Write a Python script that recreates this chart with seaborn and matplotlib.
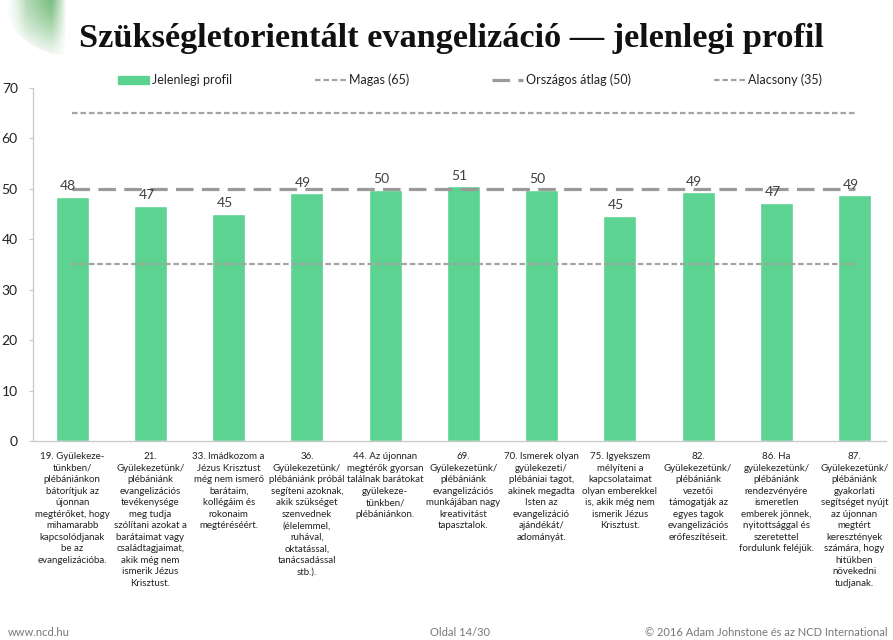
import numpy as np
import matplotlib
matplotlib.use("Agg")
import matplotlib.pyplot as plt
import matplotlib.lines as mlines
import matplotlib.patches as mpatches
import pandas as pd
import seaborn as sns

# values
items = [
    "19. Gyülekeze-\ntünkben/\nplébániánkon\nbátorítjuk az\nújonnan\nmegtérőket, hogy\nmihamarabb\nkapcsolódjanak\nbe az\nevangelizációba.",
    "21.\nGyülekezetünk/\nplébániánk\nevangelizációs\ntevékenysége\nmeg tudja\nszólítani azokat a\nbarátaimat vagy\ncsaládtagjaimat,\nakik még nem\nismerik Jézus\nKrisztust.",
    "33. Imádkozom a\nJézus Krisztust\nmég nem ismerő\nbarátaim,\nkollégáim és\nrokonaim\nmegtéréséért.",
    "36.\nGyülekezetünk/\nplébániánk próbál\nsegíteni azoknak,\nakik szükséget\nszenvednek\n(élelemmel,\nruhával,\noktatással,\ntanácsadással\nstb.).",
    "44. Az újonnan\nmegtérők gyorsan\ntalálnak barátokat\ngyülekeze-\ntünkben/\nplébániánkon.",
    "69.\nGyülekezetünk/\nplébániánk\nevangelizációs\nmunkájában nagy\nkreativitást\ntapasztalok.",
    "70. Ismerek olyan\ngyülekezeti/\nplébániai tagot,\nakinek megadta\nIsten az\nevangelizáció\najándékát/\nadományát.",
    "75. Igyekszem\nmélyíteni a\nkapcsolataimat\nolyan emberekkel\nis, akik még nem\nismerik Jézus\nKrisztust.",
    "82.\nGyülekezetünk/\nplébániánk\nvezetői\ntámogatják az\negyes tagok\nevangelizációs\nerőfeszítéseit.",
    "86. Ha\ngyülekezetünk/\nplébániánk\nrendezvényére\nismeretlen\nemberek jönnek,\nnyitottsággal és\nszeretettel\nfordulunk feléjük.",
    "87.\nGyülekezetünk/\nplébániánk\ngyakorlati\nsegítséget nyújt\naz újonnan\nmegtért\nkeresztények\nszámára, hogy\nhitükben\nnövekedni\ntudjanak.",
]
profile = [48.4, 46.6, 45.1, 49.1, 49.8, 50.5, 49.8, 44.7, 49.3, 47.2, 48.7]
bar_labels = [48, 47, 45, 49, 50, 51, 50, 45, 49, 47, 49]
high = [65] * 11
national = [50] * 11
low = [35] * 11

green = "#5cd391"
dash_grey = "#a3a3a3"
text_grey = "#404040"
short_dash = (2.5, 1.3)
long_dash = (5.5, 2.6)

sns.set_theme(style="white")
plt.rcParams["font.family"] = ["Lato", "DejaVu Sans"]

df = pd.DataFrame({"item": items, "profile": profile, "pos": range(len(items)),
                   "high": high, "national": national, "low": low})

fig = plt.figure(figsize=(8.93, 6.4), dpi=100)

# decorative green swoosh, top left
deco = fig.add_axes([5 / 893, 1 - 56 / 640, 62 / 893, 56 / 640])
yy, xx = np.mgrid[0:1:60j, 0:1:70j]
r = np.hypot(xx - 1.05, yy - 1.1)
shade = np.clip(1.2 - r, 0, 1)
rgba = np.zeros((60, 70, 4))
rgba[..., 0] = 0.35
rgba[..., 1] = 0.68
rgba[..., 2] = 0.38
rgba[..., 3] = (np.where(r < 1.1, shade * 0.9, 0) * np.clip(xx * 3, 0, 1)
                * np.clip((1 - xx) * 4, 0, 1))
deco.imshow(rgba, origin="lower", aspect="auto")
deco.axis("off")

ax = fig.add_axes([0.037, 0.311, 0.955, 0.5515])

sns.barplot(data=df, x="pos", y="profile", color=green, width=0.42,
            saturation=1, errorbar=None, ax=ax)

n0 = len(ax.lines)
sns.lineplot(data=df, x="pos", y="high", ax=ax, color=dash_grey, linewidth=1.6)
sns.lineplot(data=df, x="pos", y="national", ax=ax, color="#9a9a9a", linewidth=2.3)
sns.lineplot(data=df, x="pos", y="low", ax=ax, color=dash_grey, linewidth=1.6)
ref_lines = ax.lines[n0:]
ref_lines[0].set_dashes(short_dash)
ref_lines[1].set_dashes(long_dash)
ref_lines[2].set_dashes(short_dash)

for i, (v, lab) in enumerate(zip(profile, bar_labels)):
    ax.text(i - 0.05, v + 0.9, str(lab), ha="center", va="bottom",
            fontsize=10, color=text_grey)

ax.set_xlim(-0.5, 10.4)
ax.set_ylim(0, 70)
ax.set_yticks(range(0, 71, 10))
ax.set_xticks(range(len(items)))
ax.set_xticklabels(items, fontsize=7, color="#222222", linespacing=1.36,
                   va="top")
ax.set_xlabel("")
ax.set_ylabel("")
ax.tick_params(axis="x", length=0, pad=8)
ax.set_xticks(np.arange(0.5, 10.5, 1), minor=True)
ax.tick_params(axis="x", which="minor", length=3, color="#c8c8c8", width=0.8)
ax.tick_params(axis="y", length=3, color="#c8c8c8", width=0.8, labelsize=10,
               labelcolor="#222222", pad=8, left=True)
for s in ["top", "right"]:
    ax.spines[s].set_visible(False)
for s in ["left", "bottom"]:
    ax.spines[s].set_color("#c8c8c8")
    ax.spines[s].set_linewidth(0.9)

handles = [
    mpatches.Patch(color=green, label="Jelenlegi profil"),
    mlines.Line2D([], [], color=dash_grey, lw=1.6, dashes=short_dash, label="Magas (65)"),
    mlines.Line2D([], [], color="#9a9a9a", lw=2.3, dashes=long_dash, label="Országos átlag (50)"),
    mlines.Line2D([], [], color=dash_grey, lw=1.6, dashes=short_dash, label="Alacsony (35)"),
]
leg = fig.legend(handles=handles, ncol=4, loc="center left",
                 bbox_to_anchor=(118 / 893, 1 - 80 / 640), frameon=False,
                 fontsize=9, handlelength=2.5, handleheight=0.6,
                 handletextpad=0.25, columnspacing=6.6, borderaxespad=0,
                 borderpad=0)
for t in leg.get_texts():
    t.set_color("#222222")

fig.text(0.506, 1 - 38 / 640, "Szükségletorientált evangelizáció — jelenlegi profil",
         ha="center", va="center", fontsize=24.7, fontweight="bold",
         family=["Liberation Serif", "DejaVu Serif"], color="#111111")

fig.text(8 / 893, 1 - 632 / 640, "www.ncd.hu", fontsize=8, color="#777777",
         ha="left", va="center")
fig.text(460 / 893, 1 - 632 / 640, "Oldal 14/30", fontsize=8, color="#777777",
         ha="center", va="center")
fig.text(888 / 893, 1 - 632 / 640, "© 2016 Adam Johnstone és az NCD International",
         fontsize=8, color="#777777", ha="right", va="center")

fig.savefig("out.png", dpi=100)
